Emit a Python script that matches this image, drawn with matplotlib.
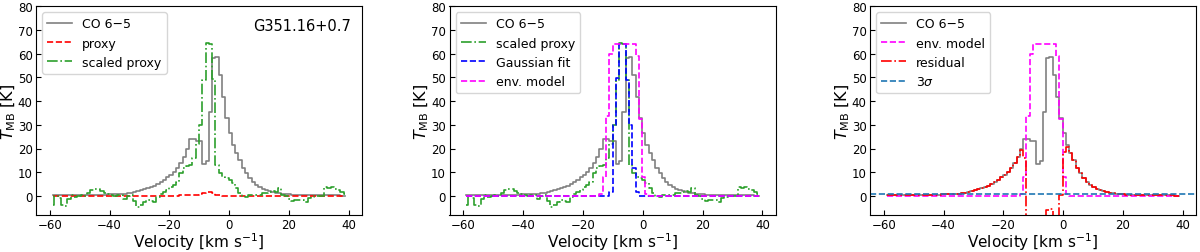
import numpy as np
import matplotlib
matplotlib.use('Agg')
import matplotlib.pyplot as plt

# channel grid (km/s), 1.1 km/s channels
v_start = -59.05
chan_width = 1.1
n_chan = 90
velocity = v_start + chan_width * np.arange(n_chan)

# CO 6-5 main beam temperature [K]
co65 = [0.3, 0.3, 0.3, 0.3, 0.3, 0.3, 0.3, 0.35, 0.35, 0.4,
        0.4, 0.4, 0.45, 0.5, 0.5, 0.55, 0.6, 0.65, 0.7, 0.75,
        0.8, 0.9, 1.0, 1.2, 1.4, 1.7, 2.0, 2.4, 2.8, 3.3,
        3.8, 4.3, 5.0, 5.8, 6.8, 7.8, 9.0, 10.3, 11.8, 13.8,
        16.5, 20.0, 24.0, 24.0, 23.2, 23.0, 13.5, 14.6, 35.5, 58.0,
        58.7, 51.0, 41.5, 33.0, 26.5, 21.5, 18.0, 15.0, 12.0, 9.5,
        7.5, 6.0, 4.8, 3.8, 3.0, 2.5, 2.0, 1.6, 1.3, 1.1,
        0.9, 0.8, 0.7, 0.6, 0.55, 0.5, 0.5, 0.45, 0.4, 0.4,
        0.35, 0.35, 0.3, 0.3, 0.3, 0.3, 0.25, 0.25, 0.2, 0.2]

# scaled proxy [K]
scaled_proxy = [-3.6, -0.1, -0.8, -3.6, -4.0, -1.2, 0.6, -0.6, 0.0, 0.5,
                0.1, 1.2, 2.4, 2.9, 2.8, 2.0, 1.3, 0.8, 0.5, 0.0,
                0.5, 0.4, -1.2, 0.0, 0.5, -2.1, -4.5, -3.6, -2.4, -1.5,
                -2.2, -2.6, -0.3, 1.0, 1.8, 2.4, 4.0, 4.6, 6.0, 9.5,
                12.0, 12.5, 13.0, 15.9, 22.0, 29.8, 48.7, 64.3, 64.0, 49.4,
                13.0, 9.5, 8.2, 7.5, 6.8, 5.4, 3.3, 1.2, 0.0, -0.6,
                0.6, 0.6, 0.6, 0.6, 1.2, 1.4, 1.8, 2.0, 1.8, 3.4,
                0.3, 0.0, -1.2, -2.0, -1.5, -1.5, -1.7, -2.4, -1.0, -0.3,
                0.0, 0.2, 0.1, 3.8, 3.3, 3.6, 2.8, 2.4, 1.8, 1.0]
proxy_scale = 40.0

# Gaussian fit to the scaled proxy [K]
gauss_fit = [0.0] * 43 + [0.1, 1.5, 30.0, 49.5, 64.0, 64.0, 49.0, 30.0, 12.0, 1.5, 0.1] + [0.0] * 36

# envelope model [K]
env_model = [0.0] * 41 + [0.8, 8.0, 33.5, 60.0, 64.0, 64.0, 64.0, 64.0, 64.0, 64.0,
                          64.0, 59.0, 32.5, 8.0, 0.8] + [0.0] * 34

three_sigma = 0.75
source = 'G351.16+0.7'

co65 = np.array(co65)
scaled_proxy = np.array(scaled_proxy)
proxy = scaled_proxy / proxy_scale
gauss_fit = np.array(gauss_fit)
env_model = np.array(env_model)
residual = co65 - env_model

fig = plt.figure(figsize=(12, 2.53), dpi=100)
lefts = [36, 449.5, 870]
axes = [fig.add_axes([l / 1200, 37 / 253, 326 / 1200, 209 / 253]) for l in lefts]

lw = 1.2
ax1, ax2, ax3 = axes

ax1.step(velocity, co65, where='mid', color='grey', lw=lw, label='CO 6\u22125')
ax1.step(velocity, proxy, where='mid', color='red', ls='--', lw=lw, label='proxy')
ax1.step(velocity, scaled_proxy, where='mid', color='C2', ls='-.', lw=lw, label='scaled proxy')
ax1.text(0.965, 0.905, source, transform=ax1.transAxes, ha='right', va='center', fontsize=10.5)

ax2.step(velocity, co65, where='mid', color='grey', lw=lw, label='CO 6\u22125')
ax2.step(velocity, scaled_proxy, where='mid', color='C2', ls='-.', lw=lw, label='scaled proxy')
ax2.step(velocity, gauss_fit, where='mid', color='blue', ls='--', lw=lw, label='Gaussian fit')
ax2.step(velocity, env_model, where='mid', color='magenta', ls='--', lw=lw, label='env. model')

ax3.step(velocity, co65, where='mid', color='grey', lw=lw, label='CO 6\u22125')
ax3.step(velocity, env_model, where='mid', color='magenta', ls='--', lw=lw, label='env. model')
ax3.step(velocity, residual, where='mid', color='red', ls='-.', lw=lw, label='residual')
ax3.axhline(three_sigma, color='C0', ls='--', lw=lw, label='3$\\sigma$')

for ax in axes:
    ax.set_xlim(-64.6, 44.4)
    ax.set_ylim(-8, 80)
    ax.set_xticks([-60, -40, -20, 0, 20, 40])
    ax.set_yticks(range(0, 81, 10))
    ax.tick_params(direction='in', labelsize=8.5, pad=2.5)
    ax.set_xlabel('Velocity [km s$^{-1}$]', fontsize=11, labelpad=-1)
    ax.set_ylabel('$T_{\\rm MB}$ [K]', fontsize=11.5, labelpad=0)
    ax.legend(loc='upper left', fontsize=9)

fig.savefig('out.png', dpi=100)
